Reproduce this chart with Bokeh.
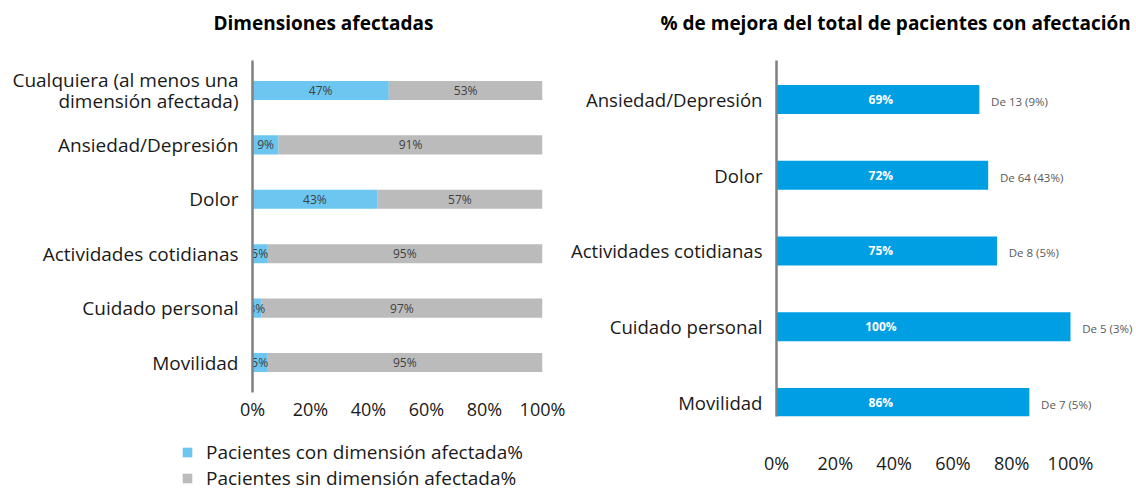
from bokeh.plotting import figure
from bokeh.layouts import row, column
from bokeh.models import (Range1d, FixedTicker, PrintfTickFormatter, Legend, LegendItem,
                          ColumnDataSource, Title)
from bokeh.core.properties import value
from bokeh.embed import file_html
from bokeh.resources import INLINE

# ---------------- data ----------------
left_categories = ["Cualquiera (al menos una\ndimensión afectada)", "Ansiedad/Depresión", "Dolor",
                   "Actividades cotidianas", "Cuidado personal", "Movilidad"]
con_dim = [47, 9, 43, 5, 3, 5]
sin_dim = [53, 91, 57, 95, 97, 95]
series_names = ["Pacientes con dimensión afectada%", "Pacientes sin dimensión afectada%"]

right_categories = ["Ansiedad/Depresión", "Dolor", "Actividades cotidianas",
                    "Cuidado personal", "Movilidad"]
mejora = [69, 72, 75, 100, 86]
mejora_notes = ["De 13 (9%)", "De 64 (43%)", "De 8 (5%)", "De 5 (3%)", "De 7 (5%)"]

x_ticks = [0, 20, 40, 60, 80, 100]

FONT = "Open Sans"
C_CON = "#6CC6EF"
C_SIN = "#BBBBBB"
C_MEJ = "#009FE3"
AXIS_C = "#808080"
TXT = "#1a1a1a"
H = 491
H1 = 430
W1 = 566


def style(p, cats, ystandoff, xstandoff, ysize):
    p.toolbar_location = None
    p.outline_line_color = None
    p.frame_align = False
    p.xgrid.visible = False
    p.ygrid.visible = False
    p.background_fill_color = "white"
    p.border_fill_color = "white"
    xa = p.xaxis[0]
    xa.ticker = FixedTicker(ticks=x_ticks)
    xa.formatter = PrintfTickFormatter(format="%d%%")
    xa.axis_line_color = None
    xa.major_tick_line_color = None
    xa.minor_tick_line_color = None
    xa.major_tick_out = 0
    xa.major_label_standoff = xstandoff
    xa.major_label_text_font = FONT
    xa.major_label_text_font_size = "18px"
    xa.major_label_text_color = TXT
    ya = p.yaxis[0]
    ya.ticker = FixedTicker(ticks=list(range(len(cats))))
    ya.major_label_overrides = {i: c for i, c in enumerate(cats)}
    ya.axis_line_color = AXIS_C
    ya.axis_line_width = 2.5
    ya.major_tick_line_color = None
    ya.minor_tick_line_color = None
    ya.major_tick_out = 0
    ya.major_label_standoff = ystandoff
    ya.major_label_text_font = FONT
    ya.major_label_text_font_size = ysize
    ya.major_label_text_line_height = 0.82
    ya.major_label_text_color = TXT


def add_title(p, text, offset, size):
    # spacer closest to the frame, then the real title above it
    p.add_layout(Title(text=" ", text_font_size="1px", standoff=17), "above")
    p.add_layout(Title(text=text, align="left", offset=offset, text_font=FONT,
                       text_font_size=size, text_font_style="bold",
                       text_color="black", standoff=10), "above")


# ---------------- left chart ----------------
ly = list(range(len(left_categories)))
src_l = ColumnDataSource(dict(
    y=ly,
    con_end=con_dim,
    sin_end=[c + s for c, s in zip(con_dim, sin_dim)],
    con_mid=[c / 2 for c in con_dim],
    sin_mid=[c + s / 2 for c, s in zip(con_dim, sin_dim)],
    con_lab=[f"{c}%" for c in con_dim],
    sin_lab=[f"{s}%" for s in sin_dim],
))

p1 = figure(width=W1, height=H1, output_backend="svg", toolbar_location=None, title=None,
            x_range=Range1d(0, 100),
            y_range=Range1d(len(left_categories) - 1 + 0.55, -0.55),
            min_border_left=252, min_border_right=W1 - 252 - 290, min_border_top=60,
            min_border_bottom=H1 - 392)
add_title(p1, "Dimensiones afectadas", -39, "19px")
style(p1, left_categories, 14, 4, "19px")

p1.hbar(y="y", left=0, right="con_end", height=0.35, source=src_l,
        fill_color=C_CON, line_color=None)
p1.hbar(y="y", left="con_end", right="sin_end", height=0.35, source=src_l,
        fill_color=C_SIN, line_color=None)
p1.text(x="con_mid", y="y", text="con_lab", source=src_l, text_align="center",
        text_baseline="middle", text_font=value(FONT), text_font_size="12px",
        text_color="#404040")
p1.text(x="sin_mid", y="y", text="sin_lab", source=src_l, text_align="center",
        text_baseline="middle", text_font=value(FONT), text_font_size="12px",
        text_color="#404040")

# ---------------- legend strip under the left chart ----------------
p_leg = figure(width=W1, height=H - H1, output_backend="svg", toolbar_location=None,
               title=None, x_range=Range1d(0, 1), y_range=Range1d(0, 1),
               min_border_left=0, min_border_right=0, min_border_top=0, min_border_bottom=0)
p_leg.frame_align = False
p_leg.axis.visible = False
p_leg.grid.visible = False
p_leg.outline_line_color = None
# zero-width proxy bars: they draw nothing, they only carry the legend swatches
proxy = ColumnDataSource(dict(y=[0], right=[0]))
lr_con = p_leg.hbar(y="y", left=0, right="right", height=0.5, source=proxy,
                    fill_color=C_CON, line_color=None)
lr_sin = p_leg.hbar(y="y", left=0, right="right", height=0.5, source=proxy,
                    fill_color=C_SIN, line_color=None)
legend = Legend(items=[LegendItem(label=series_names[0], renderers=[lr_con]),
                       LegendItem(label=series_names[1], renderers=[lr_sin])],
                location=(181, 0), orientation="vertical",
                glyph_width=12, glyph_height=12, label_standoff=13,
                label_text_font=FONT, label_text_font_size="19px", label_text_color=TXT,
                label_height=26, spacing=0, padding=0, margin=0,
                border_line_color=None, background_fill_alpha=0)
p_leg.add_layout(legend, "center")

# ---------------- right chart ----------------
ry = list(range(len(right_categories)))
src_r = ColumnDataSource(dict(
    y=ry,
    v=mejora,
    lab=[f"{v}%" for v in mejora],
    note=mejora_notes,
    note_x=[v + 4 for v in mejora],
    in_x=[35.5] * len(mejora),
))

W2_LEFT = 776 - W1
p2 = figure(width=W2_LEFT + 360, height=H, output_backend="svg", toolbar_location=None,
            title=None,
            x_range=Range1d(0, 360 / 2.94),
            y_range=Range1d(len(right_categories) - 1 + 0.185, -0.515),
            min_border_left=W2_LEFT, min_border_right=0, min_border_top=60,
            min_border_bottom=H - 416)
add_title(p2, "% de mejora del total de pacientes con afectación", -116, "19px")
style(p2, right_categories, 14, 34, "18.6px")

p2.hbar(y="y", left=0, right="v", height=0.383, source=src_r,
        fill_color=C_MEJ, line_color=None)
p2.text(x="in_x", y="y", text="lab", source=src_r, text_align="center",
        text_baseline="middle", text_font=value(FONT), text_font_size="12px",
        text_font_style="bold", text_color="white")
p2.text(x="note_x", y="y", text="note", source=src_r, text_align="left",
        text_baseline="middle", text_font=value(FONT), text_font_size="11.5px",
        text_color="#595959", y_offset=2)

layout = row(column(p1, p_leg), p2)
open("out.html", "w").write(file_html(layout, INLINE))
